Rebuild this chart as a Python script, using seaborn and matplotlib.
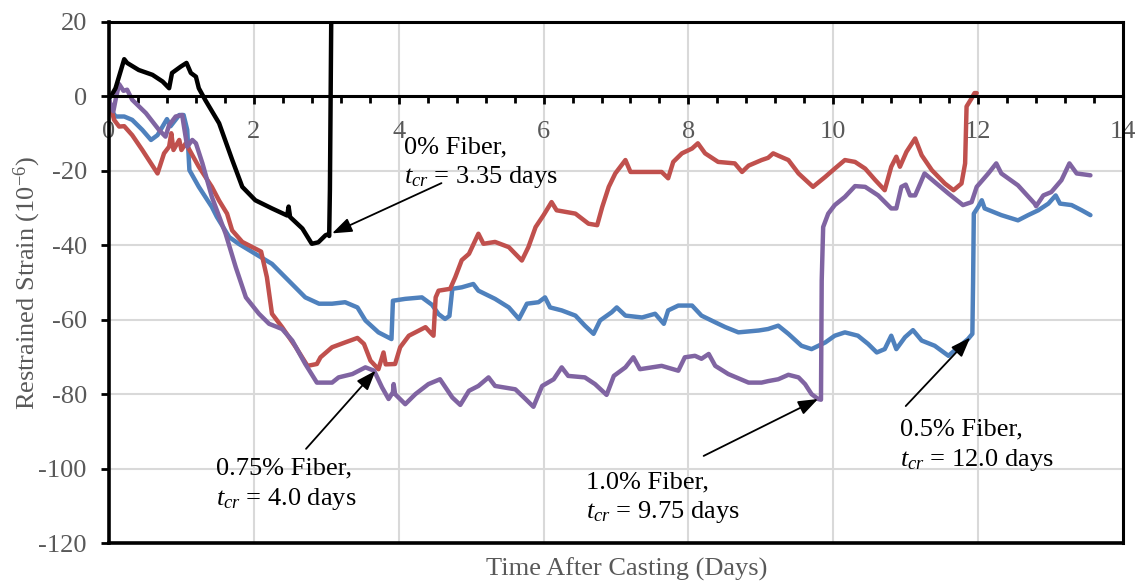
import matplotlib
matplotlib.use("Agg")
import matplotlib.pyplot as plt
import numpy as np
import pandas as pd
import seaborn as sns
from matplotlib.ticker import MultipleLocator

# ---------------- data ----------------
SERIES = ["0.5% Fiber", "0.75% Fiber", "1.0% Fiber", "0% Fiber"]
COLORS = ["#4F81BD", "#C0504D", "#8064A2", "#000000"]

FIBER_05 = [(0.0, 0.4), (0.02, -3.3), (0.09, -5.4), (0.21, -5.4), (0.32, -6.3), (0.46, -9.0),
            (0.58, -11.7), (0.67, -10.4), (0.8, -6.1), (0.85, -8.0), (0.97, -5.0), (1.03, -5.0),
            (1.08, -9.0), (1.11, -19.8), (1.24, -24.3), (1.42, -29.7), (1.49, -32.4), (1.66, -37.8),
            (1.79, -39.6), (2.02, -42.3), (2.25, -45.0), (2.48, -49.5), (2.71, -54.0), (2.9, -55.7),
            (3.08, -55.7), (3.26, -55.3), (3.43, -56.7), (3.54, -60.2), (3.72, -63.4), (3.9, -65.2),
            (3.92, -54.9), (4.09, -54.4), (4.32, -54.0), (4.46, -56.0), (4.55, -58.5), (4.64, -59.8),
            (4.7, -59.0), (4.74, -51.7), (4.87, -51.3), (5.03, -50.4), (5.1, -52.2), (5.33, -54.4),
            (5.52, -56.7), (5.66, -59.8), (5.77, -55.7), (5.93, -55.3), (6.02, -54.0), (6.09, -56.7),
            (6.25, -57.5), (6.44, -58.9), (6.57, -61.6), (6.69, -63.8), (6.78, -60.2), (6.94, -58.0),
            (7.01, -56.7), (7.13, -58.9), (7.36, -59.4), (7.54, -58.4), (7.66, -61.1), (7.72, -57.5),
            (7.86, -56.2), (8.05, -56.2), (8.18, -58.9), (8.37, -60.7), (8.51, -62.0), (8.69, -63.4),
            (8.97, -62.9), (9.1, -62.5), (9.24, -61.6), (9.38, -63.8), (9.56, -67.0), (9.7, -67.9),
            (9.89, -66.1), (10.02, -64.3), (10.16, -63.4), (10.34, -64.3), (10.48, -66.5), (10.6, -68.8),
            (10.71, -67.9), (10.8, -64.3), (10.87, -67.9), (10.99, -64.7), (11.1, -62.8), (11.22, -65.6),
            (11.4, -67.0), (11.59, -69.7), (11.75, -67.0), (11.86, -65.2), (11.92, -63.8), (11.93, -50.0),
            (11.94, -31.5), (12.0, -29.7), (12.05, -27.9), (12.09, -30.1), (12.32, -31.9), (12.55, -33.3),
            (12.69, -31.9), (12.83, -30.6), (12.97, -28.8), (13.07, -26.6), (13.13, -28.8), (13.29, -29.2),
            (13.43, -30.6), (13.55, -31.9)]

FIBER_075 = [(0.0, -1.0), (0.07, -6.3), (0.14, -8.1), (0.21, -8.0), (0.32, -10.4), (0.46, -14.4),
             (0.67, -20.7), (0.76, -15.3), (0.83, -13.5), (0.86, -9.9), (0.89, -14.4), (0.97, -11.7),
             (1.0, -14.4), (1.06, -12.6), (1.1, -14.0), (1.24, -18.9), (1.42, -24.3), (1.52, -28.0),
             (1.63, -31.5), (1.7, -36.0), (1.84, -39.1), (2.07, -41.4), (2.1, -41.7), (2.18, -48.6),
             (2.25, -58.4), (2.39, -62.0), (2.58, -67.4), (2.74, -72.4), (2.87, -71.9), (2.92, -70.1),
             (3.08, -67.4), (3.26, -66.1), (3.43, -64.9), (3.52, -66.5), (3.61, -71.0), (3.72, -73.3),
             (3.79, -68.8), (3.82, -72.0), (3.95, -71.9), (4.02, -67.4), (4.14, -64.3), (4.37, -62.0),
             (4.44, -63.5), (4.48, -64.3), (4.51, -54.0), (4.55, -52.2), (4.71, -51.7), (4.78, -48.6),
             (4.87, -44.0), (4.97, -42.3), (5.1, -36.9), (5.17, -39.6), (5.33, -39.1), (5.52, -40.5),
             (5.7, -44.1), (5.79, -40.5), (5.89, -35.1), (6.0, -31.9), (6.11, -28.4), (6.18, -30.6),
             (6.44, -31.5), (6.62, -34.2), (6.74, -34.6), (6.81, -29.7), (6.9, -24.3), (6.99, -20.7),
             (7.13, -17.1), (7.2, -20.3), (7.45, -20.3), (7.63, -20.3), (7.72, -22.0), (7.79, -17.6),
             (7.91, -15.3), (8.05, -14.0), (8.13, -12.6), (8.23, -15.3), (8.41, -17.6), (8.64, -18.0),
             (8.74, -20.3), (8.83, -18.6), (9.01, -17.1), (9.1, -16.5), (9.17, -15.3), (9.25, -16.0),
             (9.38, -17.1), (9.52, -20.7), (9.72, -24.3), (9.89, -21.6), (10.02, -19.4), (10.16, -17.1),
             (10.3, -17.6), (10.44, -19.4), (10.58, -22.5), (10.71, -25.2), (10.8, -18.9), (10.87, -16.2),
             (10.92, -18.9), (11.01, -14.9), (11.13, -11.3), (11.22, -15.8), (11.36, -19.8), (11.54, -23.4),
             (11.66, -25.2), (11.77, -23.4), (11.82, -18.0), (11.84, -2.7), (11.91, -0.5), (11.95, 0.9),
             (11.98, 0.9)]

FIBER_10 = [(0.0, -1.0), (0.06, -4.0), (0.1, 0.0), (0.14, 3.3), (0.2, 1.5), (0.25, 1.8), (0.32, -0.9),
            (0.51, -4.5), (0.69, -9.0), (0.78, -10.8), (0.83, -7.7), (0.92, -5.4), (1.01, -5.0),
            (1.05, -9.9), (1.08, -13.5), (1.15, -11.7), (1.2, -12.6), (1.29, -18.0), (1.42, -27.0),
            (1.61, -36.9), (1.75, -45.9), (1.89, -54.0), (2.07, -58.4), (2.21, -61.1), (2.39, -62.5),
            (2.53, -65.6), (2.71, -71.9), (2.87, -76.9), (3.08, -76.9), (3.17, -75.5), (3.36, -74.6),
            (3.54, -72.8), (3.66, -73.7), (3.77, -78.2), (3.86, -81.3), (3.92, -79.5), (3.93, -77.3),
            (3.95, -80.0), (4.09, -82.7), (4.23, -80.0), (4.41, -77.3), (4.57, -76.0), (4.74, -80.9),
            (4.85, -82.9), (4.97, -79.1), (5.1, -77.8), (5.24, -75.5), (5.33, -77.8), (5.61, -78.7),
            (5.75, -81.3), (5.86, -83.4), (5.98, -77.8), (6.14, -76.0), (6.25, -72.8), (6.34, -75.1),
            (6.57, -75.5), (6.71, -77.3), (6.87, -80.2), (6.97, -75.1), (7.13, -72.8), (7.24, -70.1),
            (7.33, -73.3), (7.63, -72.4), (7.86, -73.7), (7.95, -70.1), (8.09, -69.7), (8.18, -70.5),
            (8.28, -69.2), (8.37, -72.4), (8.55, -74.6), (8.83, -76.9), (9.01, -76.9), (9.1, -76.5),
            (9.24, -76.0), (9.38, -74.8), (9.52, -75.5), (9.61, -77.3), (9.7, -80.0), (9.79, -81.3),
            (9.83, -81.5), (9.84, -49.5), (9.86, -35.1), (9.93, -31.5), (10.02, -29.2), (10.16, -27.0),
            (10.3, -24.1), (10.44, -24.3), (10.62, -26.6), (10.8, -30.1), (10.87, -30.1), (10.94, -24.3),
            (11.0, -23.7), (11.06, -26.6), (11.13, -26.6), (11.26, -20.7), (11.4, -23.0), (11.59, -26.1),
            (11.79, -29.2), (11.91, -28.4), (11.98, -24.3), (12.14, -20.7), (12.25, -18.0), (12.32, -20.7),
            (12.55, -23.9), (12.78, -28.8), (12.8, -29.5), (12.9, -26.6), (13.01, -25.7), (13.15, -22.5),
            (13.26, -18.0), (13.36, -20.7), (13.55, -21.2)]

FIBER_0 = [(0.0, -0.5), (0.04, 0.5), (0.09, 2.2), (0.21, 10.0), (0.25, 9.0), (0.41, 7.1), (0.6, 5.8),
           (0.74, 4.0), (0.83, 2.2), (0.87, 6.3), (0.99, 8.0), (1.07, 9.0), (1.13, 6.3), (1.2, 5.3),
           (1.24, 2.2), (1.33, -1.0), (1.52, -7.2), (1.7, -17.0), (1.84, -24.3), (2.02, -27.9),
           (2.25, -30.1), (2.46, -32.0), (2.48, -29.6), (2.5, -32.4), (2.67, -35.5), (2.8, -39.6),
           (2.89, -39.2), (2.99, -37.3), (3.03, -37.0), (3.04, -37.5), (3.05, -25.0), (3.07, 25.0)]

ANNOT_LINE1 = ["0% Fiber,", "0.75% Fiber,", "1.0% Fiber,", "0.5% Fiber,"]
ANNOT_LINE2 = ["$t_{cr}$ = 3.35 days", "$t_{cr}$ = 4.0 days",
               "$t_{cr}$ = 9.75 days", "$t_{cr}$ = 12.0 days"]
ANNOT_TEXT_X = [4.07, 1.48, 6.58, 10.92]
ANNOT_BASE1 = [-15.2, -101.7, -105.3, -91.2]
ANNOT_BASE2 = [-23.3, -109.8, -113.3, -99.3]
ANNOT_TAIL = [(4.59, -23.3), (2.72, -94.7), (8.21, -96.6), (11.0, -83.2)]
ANNOT_TIP = [(3.08, -36.8), (3.68, -73.7), (9.79, -81.3), (11.89, -64.8)]

X_TICKS = [0, 2, 4, 6, 8, 10, 12, 14]
Y_TICKS = [20, 0, -20, -40, -60, -80, -100, -120]

# ---------------- build long table ----------------
frames = []
for name, pts in zip(SERIES, [FIBER_05, FIBER_075, FIBER_10, FIBER_0]):
    arr = np.array(pts)
    frames.append(pd.DataFrame({"day": arr[:, 0], "strain": arr[:, 1], "series": name}))
df = pd.concat(frames, ignore_index=True)

# ---------------- style ----------------
sns.set_theme(style="white")
plt.rcParams["font.family"] = ["Liberation Serif", "DejaVu Serif"]
plt.rcParams["mathtext.fontset"] = "custom"
plt.rcParams["mathtext.rm"] = "Liberation Serif"
plt.rcParams["mathtext.it"] = "Liberation Serif:italic"
plt.rcParams["axes.unicode_minus"] = False

FS = 19
GRAY = "#595959"

fig = plt.figure(figsize=(11.45, 5.83), dpi=100)
ax = fig.add_axes([0.0952, 0.0686, 0.8856, 0.8937])

sns.lineplot(data=df, x="day", y="strain", hue="series", hue_order=SERIES,
             palette=dict(zip(SERIES, COLORS)), estimator=None, sort=False,
             linewidth=3.2, legend=False, ax=ax)

ax.set_xlim(0, 14)
ax.set_ylim(-120, 20)
ax.set_xticks(X_TICKS)
ax.set_yticks(Y_TICKS)
ax.xaxis.set_minor_locator(MultipleLocator(0.4))
ax.grid(True, which="major", color="#D9D9D9", linewidth=1.5)
ax.set_axisbelow(True)

for side in ["left", "right", "top", "bottom"]:
    ax.spines[side].set_visible(True)
    ax.spines[side].set_color("black")
    ax.spines[side].set_linewidth(2.2)
ax.spines["left"].set_linewidth(2.6)
ax.spines["bottom"].set_position(("data", 0))
ax.plot([0, 1], [0, 0], transform=ax.transAxes, color="black", lw=2.6,
        clip_on=False, solid_capstyle="projecting")

ax.tick_params(axis="x", which="major", bottom=True, direction="out", length=6, width=2,
               color="black", labelcolor=GRAY, labelsize=FS, pad=12)
ax.tick_params(axis="x", which="minor", bottom=True, direction="out", length=5, width=2,
               color="black")
ax.tick_params(axis="y", which="major", left=True, direction="out", length=6, width=2,
               color="black", labelcolor=GRAY, labelsize=FS, pad=10)

ax.set_xlabel("Time After Casting (Days)", fontsize=FS, color=GRAY)
ax.xaxis.set_label_coords(0.511, -0.028)
ax.set_ylabel("Restrained Strain (10$^{-6}$)", fontsize=FS, color=GRAY)
ax.yaxis.set_label_coords(-0.065, 0.5)

for l1, l2, tx, b1, b2, tail, tip in zip(ANNOT_LINE1, ANNOT_LINE2, ANNOT_TEXT_X,
                                         ANNOT_BASE1, ANNOT_BASE2, ANNOT_TAIL, ANNOT_TIP):
    ax.text(tx, b1, l1, fontsize=FS, color="black", ha="left", va="baseline")
    ax.text(tx, b2, l2, fontsize=FS, color="black", ha="left", va="baseline")
    ax.annotate("", xy=tip, xytext=tail,
                arrowprops=dict(arrowstyle="-|>,head_length=0.6,head_width=0.22",
                                color="black", lw=1.3, mutation_scale=20,
                                shrinkA=0, shrinkB=0))

fig.savefig("out.png", dpi=100)
